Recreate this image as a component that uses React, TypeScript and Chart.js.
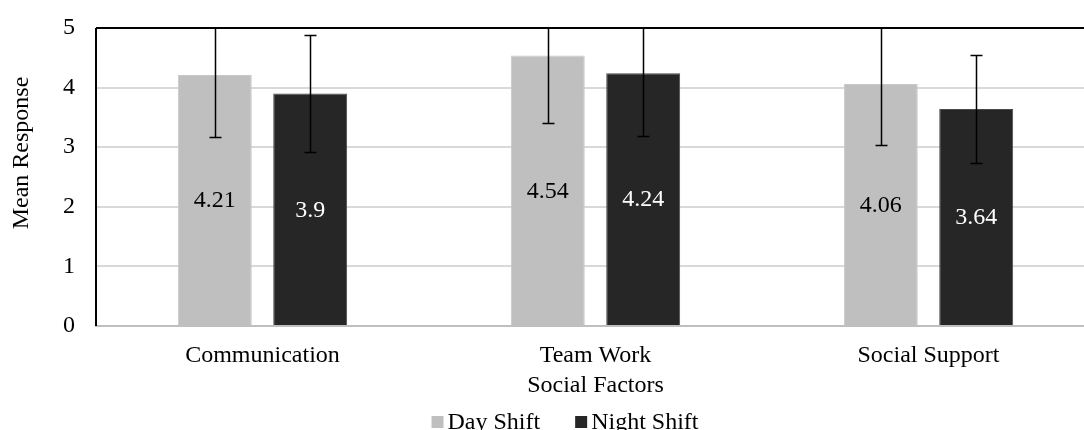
import { useEffect, useRef } from "react";
import { Chart, registerables } from "chart.js";

Chart.register(...registerables);

const categories = ["Communication", "Team Work", "Social Support"];
const seriesNames = ["Day Shift", "Night Shift"];
const dayShift = [4.21, 4.54, 4.06];
const nightShift = [3.9, 4.24, 3.64];
const dayShiftError = [1.04, 1.13, 1.02];
const nightShiftError = [0.98, 1.06, 0.91];
const yTickMin = 0;
const yTickMax = 5;
const yTickStep = 1;
const xAxisTitle = "Social Factors";
const yAxisTitle = "Mean Response";

const seriesColors = ["#bfbfbf", "#262626"];
const seriesBorders = ["#c8c8c8", "#4a4a4a"];
const labelColors = ["#000000", "#ffffff"];
const FONT = "'Liberation Serif', 'Times New Roman', serif";
const FS = 24;

const errorsBySeries = [dayShiftError, nightShiftError];

const errorBarPlugin = {
  id: "errorBars",
  afterDatasetsDraw(chart: any) {
    const { ctx, chartArea, scales } = chart;
    const y = scales.y;
    ctx.save();
    // value labels
    chart.data.datasets.forEach((ds: any, i: number) => {
      const meta = chart.getDatasetMeta(i);
      meta.data.forEach((bar: any, j: number) => {
        const cy = (bar.y + bar.base) / 2 + 1;
        ctx.font = `${FS}px ${FONT}`;
        ctx.fillStyle = labelColors[i];
        ctx.textAlign = "center";
        ctx.textBaseline = "middle";
        ctx.fillText(String(ds.data[j]), bar.x, cy);
      });
    });
    // error bars
    ctx.beginPath();
    ctx.rect(chartArea.left, chartArea.top, chartArea.right - chartArea.left, chartArea.bottom - chartArea.top);
    ctx.clip();
    ctx.strokeStyle = "#000000";
    ctx.lineWidth = 1.5;
    chart.data.datasets.forEach((ds: any, i: number) => {
      const meta = chart.getDatasetMeta(i);
      meta.data.forEach((bar: any, j: number) => {
        const v = ds.data[j];
        const e = errorsBySeries[i][j];
        const yHi = y.getPixelForValue(v + e);
        const yLo = y.getPixelForValue(v - e);
        const x = Math.round(bar.x) + 0.5;
        ctx.beginPath();
        ctx.moveTo(x, yHi);
        ctx.lineTo(x, yLo);
        ctx.moveTo(x - 6, Math.round(yLo) + 0.5);
        ctx.lineTo(x + 6, Math.round(yLo) + 0.5);
        ctx.moveTo(x - 6, Math.round(yHi) + 0.5);
        ctx.lineTo(x + 6, Math.round(yHi) + 0.5);
        ctx.stroke();
      });
    });
    ctx.restore();
  },
};

const framePlugin = {
  id: "frame",
  afterDraw(chart: any) {
    const { ctx, chartArea } = chart;
    ctx.save();
    ctx.strokeStyle = "#000000";
    ctx.lineWidth = 2;
    ctx.beginPath();
    ctx.moveTo(chartArea.left, chartArea.top);
    ctx.lineTo(chartArea.right, chartArea.top);
    ctx.moveTo(chartArea.left, chartArea.top);
    ctx.lineTo(chartArea.left, chartArea.bottom);
    ctx.stroke();

    // y-axis title
    ctx.font = `${FS}px ${FONT}`;
    ctx.fillStyle = "#000000";
    ctx.textAlign = "center";
    ctx.textBaseline = "middle";
    ctx.translate(22, (chartArea.top + chartArea.bottom) / 2 - 24);
    ctx.rotate(-Math.PI / 2);
    ctx.fillText(yAxisTitle, 0, 0);
    ctx.restore();

    // legend
    ctx.save();
    ctx.font = `${FS}px ${FONT}`;
    ctx.textBaseline = "middle";
    ctx.textAlign = "left";
    const box = 12;
    const gapText = 4;
    const gapItem = 35;
    const widths = seriesNames.map((n) => box + gapText + ctx.measureText(n).width);
    const total = widths.reduce((a, b) => a + b, 0) + gapItem * (seriesNames.length - 1);
    let x = chart.width / 2 + 15 - total / 2;
    const cy = chartArea.bottom + 96;
    seriesNames.forEach((n, i) => {
      ctx.fillStyle = seriesColors[i];
      ctx.fillRect(x, cy - box / 2, box, box);
      ctx.fillStyle = "#000000";
      ctx.fillText(n, x + box + gapText, cy + 1);
      x += widths[i] + gapItem;
    });
    ctx.restore();
  },
};

export default function App() {
  const ref = useRef<HTMLCanvasElement | null>(null);
  useEffect(() => {
    if (!ref.current) return;
    const chart = new Chart(ref.current, {
      type: "bar",
      data: {
        labels: categories,
        datasets: [
          {
            label: seriesNames[0],
            data: dayShift,
            backgroundColor: seriesColors[0],
            borderColor: seriesBorders[0],
            borderWidth: 1,
            categoryPercentage: 0.573,
            barPercentage: 0.775,
          },
          {
            label: seriesNames[1],
            data: nightShift,
            backgroundColor: seriesColors[1],
            borderColor: seriesBorders[1],
            borderWidth: 1,
            categoryPercentage: 0.573,
            barPercentage: 0.775,
          },
        ],
      },
      options: {
        responsive: false,
        animation: false,
        layout: { padding: { top: 28, left: 0, right: 5, bottom: 30 } },
        plugins: {
          legend: { display: false },
          tooltip: { enabled: false },
        },
        scales: {
          x: {
            grid: { display: false, drawTicks: false },
            border: { display: true, color: "#bfbfbf", width: 2 },
            ticks: {
              color: "#000000",
              font: { family: FONT, size: FS },
              padding: 15,
              maxRotation: 0,
            },
            title: {
              display: true,
              text: xAxisTitle,
              color: "#000000",
              font: { family: FONT, size: FS },
              padding: { top: 0, bottom: 0 },
            },
            afterFit(scale: any) {
              scale.height = 74;
              scale.paddingLeft = 0;
              scale.paddingRight = 0;
            },
          },
          y: {
            min: yTickMin,
            max: yTickMax,
            ticks: {
              stepSize: yTickStep,
              color: "#000000",
              font: { family: FONT, size: FS },
              padding: 21,
            },
            grid: {
              drawTicks: false,
              lineWidth: 2,
              color: (c: any) =>
                c.tick && (c.tick.value === yTickMin || c.tick.value === yTickMax)
                  ? "rgba(0,0,0,0)"
                  : "#d9d9d9",
            },
            border: { display: false },
            afterFit(scale: any) {
              scale.width = 96;
              scale.paddingTop = 0;
              scale.paddingBottom = 0;
            },
          },
        },
      },
      plugins: [errorBarPlugin, framePlugin],
    });
    return () => chart.destroy();
  }, []);
  return (
    <div style={{ position: "fixed", left: 0, top: 0, width: 1084, height: 430, overflow: "hidden", background: "#ffffff" }}>
      <canvas ref={ref} width={1100} height={430} style={{ width: 1100, height: 430, display: "block" }} />
    </div>
  );
}
